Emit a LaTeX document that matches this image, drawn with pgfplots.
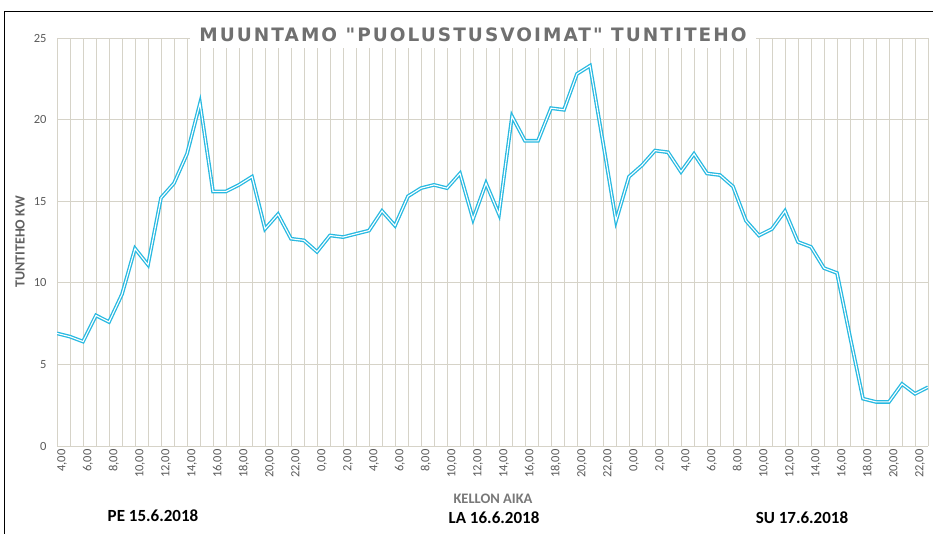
\documentclass[border=0pt]{standalone}
\usepackage{pgfplots}
\pgfplotsset{compat=1.18}
\usepackage{fontspec}
\setmainfont{Carlito}
\newfontfamily\titlefont[LetterSpace=11]{DejaVu Sans}
\definecolor{lineblue}{RGB}{40,185,225}
\definecolor{gridc}{RGB}{214,211,200}
\definecolor{tickgray}{RGB}{90,90,90}
\definecolor{titlegray}{RGB}{112,112,112}
\definecolor{labgray}{RGB}{120,120,120}
\begin{document}
\begin{tikzpicture}
\useasboundingbox (0,0) rectangle (933pt,534pt);
\begin{axis}[
  at={(57pt,88pt)}, anchor=south west,
  scale only axis, width=871pt, height=408pt,
  xmin=0, xmax=67, ymin=0, ymax=25,
  /pgf/number format/assume math mode=true,
  axis line style={draw=none},
  tick style={draw=none},
  ytick={0,5,...,25},
  xtick={0,2,...,18,20,22,...,42,44,46,...,66},
  xticklabels={{4,00},{6,00},{8,00},{10,00},{12,00},{14,00},{16,00},{18,00},{20,00},{22,00},
    {0,00},{2,00},{4,00},{6,00},{8,00},{10,00},{12,00},{14,00},{16,00},{18,00},{20,00},{22,00},
    {0,00},{2,00},{4,00},{6,00},{8,00},{10,00},{12,00},{14,00},{16,00},{18,00},{20,00},{22,00}},
  minor xtick={1,3,...,67},
  xmajorgrids, xminorgrids, ymajorgrids,
  major grid style={draw=gridc, line width=0.9pt},
  minor grid style={draw=gridc, line width=0.9pt},
  yticklabel style={font=\fontsize{12.5}{14}\selectfont, text=tickgray, xshift=-7pt},
  xticklabel style={font=\fontsize{12.5}{14}\selectfont, text=tickgray, rotate=90, anchor=east, yshift=-5pt},
]
\addplot[draw=lineblue, line width=1.3pt, double=white, double distance=1.1pt, line join=miter] coordinates {
(0,6.9) (1,6.7) (2,6.4) (3,8.0) (4,7.6) (5,9.3) (6,12.1) (7,11.1) (8,15.2) (9,16.1)
(10,17.9) (11,21.0) (12,15.6) (13,15.6) (14,16.0) (15,16.5) (16,13.3) (17,14.2) (18,12.7) (19,12.6)
(20,11.9) (21,12.9) (22,12.8) (23,13.0) (24,13.2) (25,14.4) (26,13.5) (27,15.3) (28,15.8) (29,16.0)
(30,15.8) (31,16.7) (32,13.9) (33,16.1) (34,14.2) (35,20.2) (36,18.7) (37,18.7) (38,20.7) (39,20.6)
(40,22.8) (41,23.3) (42,18.6) (43,13.8) (44,16.5) (45,17.2) (46,18.1) (47,18.0) (48,16.8) (49,17.9)
(50,16.7) (51,16.6) (52,15.9) (53,13.8) (54,12.9) (55,13.3) (56,14.4) (57,12.5) (58,12.2) (59,10.9)
(60,10.6) (61,6.7) (62,2.9) (63,2.7) (64,2.7) (65,3.8) (66,3.2) (67,3.6)
};
\end{axis}
% title with white background
\node[fill=white, inner xsep=9pt, inner ysep=6.5pt, text height=13.5pt, text depth=0pt, text=titlegray,
  font=\titlefont\bfseries\fontsize{18.5}{21}\selectfont] at (473pt,499pt) {MUUNTAMO "PUOLUSTUSVOIMAT" TUNTITEHO};
% axis labels
\node[rotate=90, font=\bfseries\fontsize{14}{16}\selectfont, text=labgray!80!black] at (20pt,292pt) {TUNTITEHO KW};
\node[font=\bfseries\fontsize{14.5}{16}\selectfont, text=labgray] at (493pt,35pt) {KELLON AIKA};
% day labels
\node[font=\bfseries\fontsize{17}{19}\selectfont] at (153pt,18pt) {PE 15.6.2018};
\node[font=\bfseries\fontsize{17}{19}\selectfont] at (494pt,16pt) {LA 16.6.2018};
\node[font=\bfseries\fontsize{17}{19}\selectfont] at (802pt,16pt) {SU 17.6.2018};
% frame
\draw[black, line width=1.2pt] (4.7pt,-10pt) -- (4.7pt,522.3pt) -- (945pt,522.3pt);
\end{tikzpicture}
\end{document}
